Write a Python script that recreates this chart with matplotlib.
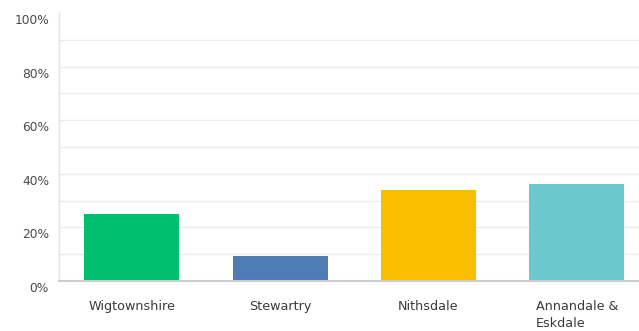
import matplotlib.pyplot as plt
from matplotlib.transforms import ScaledTranslation

# Survey response share by area
areas = ["Wigtownshire", "Stewartry", "Nithsdale", "Annandale &\nEskdale"]
shares = [25.0, 9.4, 33.8, 36.1]
colors = ["#00bf6f", "#507cb6", "#f9be00", "#6bc8cd"]
major_ticks = [0, 20, 40, 60, 80, 100]
minor_ticks = [10, 30, 50, 70, 90]
tick_labels = ["0%", "20%", "40%", "60%", "80%", "100%"]

fig = plt.figure(figsize=(6.39, 3.31), dpi=100)
ax = fig.add_axes([58.7 / 639, 50 / 331, 1 - 58.7 / 639, 268 / 331])

x = range(len(areas))
ax.bar(x, shares, width=0.64, color=colors, zorder=3)

ax.set_xlim(-0.494, 3.42)
ax.set_ylim(0, 100)

ax.set_yticks(major_ticks)
ax.set_yticks(minor_ticks, minor=True)
ax.set_yticklabels(tick_labels)
ax.grid(axis="y", which="both", color="#ececec", linewidth=1.0, zorder=0)
ax.yaxis.get_gridlines()[-1].set_visible(False)
ax.tick_params(axis="y", which="both", length=0, pad=7, labelsize=8.8, labelcolor="#4a4a4a")

# nudge the percentage labels slightly below their gridlines
offset = ScaledTranslation(0, -6 / 100, fig.dpi_scale_trans)
for lab in ax.get_yticklabels():
    lab.set_transform(lab.get_transform() + offset)

ax.set_xticks(list(x))
ax.set_xticklabels(areas, multialignment="left", linespacing=1.4)
ax.tick_params(axis="x", length=0, pad=14, labelsize=9.2, labelcolor="#3a3a3a")

for side in ["top", "right"]:
    ax.spines[side].set_visible(False)
ax.spines["left"].set_color("#e4e4e4")
ax.spines["left"].set_linewidth(1.0)
ax.spines["bottom"].set_color("#cfcfcf")
ax.spines["bottom"].set_linewidth(1.5)
ax.spines["bottom"].set_zorder(4)

fig.savefig("out.png", dpi=100)
